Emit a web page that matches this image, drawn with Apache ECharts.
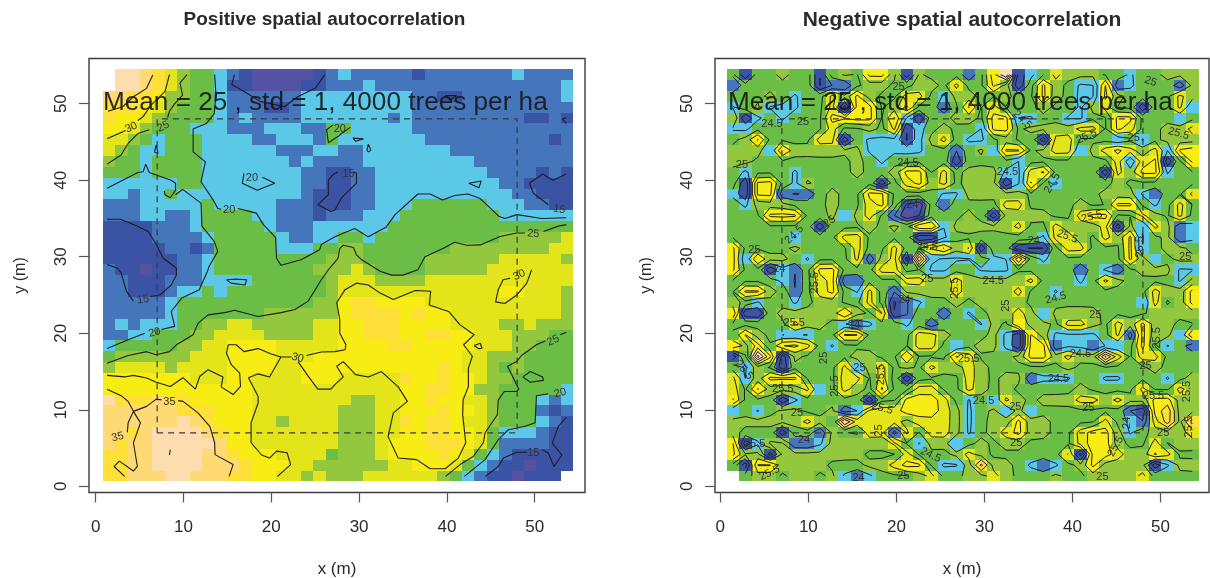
<!DOCTYPE html>
<html><head><meta charset="utf-8">
<style>html,body{margin:0;padding:0;background:#fff}#c{width:1210px;height:578px}</style>
<script src="https://cdn.jsdelivr.net/npm/echarts@6/dist/echarts.min.js"></script></head>
<body><div id="c"></div>
<script>
const axisTicks=[0,10,20,30,40,50];
const panelTitles=["Positive spatial autocorrelation","Negative spatial autocorrelation"];
const noteText="Mean = 25 , std = 1, 4000 trees per ha";
const bandColors={P:"#5652a3",N:"#3a53a4",B:"#4575bb",S:"#5bc8e8",G:"#6abd45",L:"#93c83e",I:"#e3e41a",Y:"#f7ec13",O:"#ffe038",R:"#ffd974",E:"#fddcb0"};
const rightBandValues={P:22.8,N:23.3,B:23.9,S:24.35,G:24.85,L:25.2,I:25.8,Y:26.3,O:27,R:27.6,E:28.2};
const leftBandValues={P:11,N:13.5,B:16.5,S:19,G:21.5,L:24,I:27.5,Y:31,O:33,R:36,E:38};
const rightLevels=[23,23.5,24,24.5,25,25.5,26,26.5,27,27.5,28];
const leftRows=[
".EEROILGGSBNPPPPPNBSBBBBBNBBBBBBBSBBBB",
".EEROILGGSNNPPPPNNBBBSBBBBBBBBBBBBBBBS",
"RROOYLLGGSBBBBBBSSSSSSSSSBBNNBBBBBBBBS",
"OOOYILGGGSBBBNNBSSSSSSSSSBBBBBBBBBBBBB",
"OYYILGGGGSBSBBBBSSSSSSSBSBBBBBBBBBNNBN",
"YYILGGGSSSBBBSSSBBGGSSSSSBBBBBBBBBBBBB",
"IILGSGGGSSSSBBSSSBGSSSSSSSBBBBBBBBBBNB",
"ILGSSGGGSSSSSSBBBSSBBSSSSSSSBBBBBBBBBB",
"LGGSGGGGSSSSSSSBSBBBBSSSSSSSSSBBBBBBBB",
"GGGSGGGGSSSSSSSSBBNNBBSSSSSSSSSBBBBNBN",
"SSSSSSGGSSSSSSSSBBNNBBSSSSSSSSSSBBNNNN",
"SSBSSGSSSSSSSSSSBNNNBBSSSSSSSSSSSBBNNN",
"BBBSSSSSGSSSSSBBBNNNBBSSSGGGGGGSSSBBNN",
"BBBSSBBSGGGGSSBBBNBBBSSSGGGGGGGGSSSSSS",
"NNNNBBBSGGGGGSBBBSSSSSSGGGGGGGGGGGGGGG",
"NNNNBBBBSGGGGGSBBSSGGSGGGGGGGGGGLLLLLI",
"NNNNNBBNBGGGGGSSSGGLLGGGGGGGLLLLLLLLII",
"NNNNNNBBSGGGGGGGGGLLLGGGGGLLLLLLIIIIIL",
"BNNPNNBBSGGGGGGGGLLLILGGGGLLLLLIIIIIII",
"BBNNNBBBSSSSGGGGGGLIIILLLLIIIIIIIIIIII",
"BBNNNBSSGSGGGGGGGGLIIIIIIIIIIIIIYYIIIL",
"BBBBBSGGGGGGGGGGGLLYOOYYYYIIIIIIIIIIIL",
"BBBBBSGGGGGGGLLLLLLYOOOOYOYYIIIIIIIIIL",
"BSBSSSGGLLIILLLLLIIYYOOOYYYYIIIILLILLL",
"BBSSGGGLLIIIILLLLIIYYOOOYYOOYYIIILLLGG",
"SGGGGGLLIIYYYYIIIIIYYYYOOYYYYYIIILLGGG",
"GLLLLLLIIIYYYYIIIYYYYYYYYYYYYIILLLGGGG",
"LIIIILIIIIYYYYIIYYYYYYYYYYYOYIILGLGGGG",
"YYYYYYYIIIYYIIIIYYYIIIIIOYYOYYILLGGGGG",
"YYYYYYYYYYYYIIIIIIIIIIIIYYOOYYLLGGGGGS",
"EOOOROOYYYYYIIIIIIIILLIIYYOYYIILGGGSBS",
"RRRRRROOOYYYIIIIIIILLLIIYYYOYYILGGGBNB",
"RRRRRREROYYYIILIIIILLLIIOYOOYIILGGGSBN",
"RROREEEEROYYIIIIIIILLLIIYYOOYYIGSSSBNN",
"RORREEEEERYYIIIIIIILLLIYYYOOOYIGBBBBNN",
"OORREEEERROYYYIIIIGLLLIYYYYOYIGSBNNNNN",
"OORREEEERRROYYYIILLLLLLIIYYYIGSBNNPNNN",
"OORRREERRROOYYIILILLLIIIIIILGSBNNPNNN."];
const rightRows=[
"GNGGLGGNGLGYYLNLGGGBGYENSGILLLGGSGGLLL",
"BGGGGGGNBBGLLGGLLGIGGYLNGYLGSSYBSGGGBL",
"GGGLGSGGILYLGGIIGSLLGGLGGYLGSSYLGGGGIL",
"SGLSSSGGINYYGLYGGBGYGIGGGLGGSLIGGNGGIS",
"LNSGSGGGYYYYGYSNGGLLGYYSSGGSSGGYYGGGSG",
"SSGGGGGGIGGLGINSGLGGSYYGLLLLIIGYIGGLLI",
"GLYGGGGIINGSSSNSLIGSSGLGGNIIGGGSGSGLLL",
"LLLSYLLLLLLSSSSSGGBGLSYYGLIISLIYILISYY",
"LLGGGGGGGGLGSGGGGGNGGGGSGGGGGGGISIYNGY",
"GSGGGSGGGGLGGLYYGIGLLLSSIYGGGGNILYYSGG",
"GNYYGSLGGGGGNGIYLIGLLLNSYGSGGGGLGGGGGG",
"SNYYBBBGLGGYYGGGGSSLLLLLGGGGGGLLLSBGGI",
"GSLLLGGGLGGIYGNPGBGGGGIIGGGGLGGYYGSGIG",
"GGGYYYGGLSLIGBPNGGGLGNLLLLGGIYYGGILGIG",
"GGGGGGGNGGGLGLGYYSLLLLLIGGILLLINLSILBS",
"GGGGGSGGGIIGGGGNNSGGGGGGGSIILGILYSGLBS",
"YGGGGLGGGGIGGIGGIYLINGGNNNGIIGGGYSGLLG",
"YSYLLGSGGGIBLINRSSSSGSSOGSGGGGGGYLSGLL",
"YGGNSBGYYGGGIIGGSSGGSSSGGGGGBGSBGLLLSS",
"GGGGSBGIYBBGGGIILLILLLLLIGGGSGILGGGGSL",
"GYYLGBGIYGSIGBLLLLILLLLIGGSGGGGGGGILLY",
"LGSGGSGLLGGIGNBSGGLGLLLLGGGGGGGGGSIGLY",
"YNNGLLLLLYLGINBGGBGSGLLILSLLLLGGGGLLLL",
"GGGGGILLGSBSGGSGBGGGSLGYLLGIILGILYLLGG",
"GYLGSSSGGYYGGGGIILGGGLSNYLSSSSGIBYLLSY",
"YLYGYYIGSGGGGGGIIGSGLLSNYYBSSBSSGYGSGB",
"NGEYNLGGGGLLGGYGGGYIGGGLYYLILLRIGIIGGG",
"GSLGNGGGGISLIGLGILLILGGGGGGLGGGGGGLGGG",
"ISLYYYGGGIIGIGNGGGGILGLLBSSSGGSSGGGSGL",
"IGYLLLISGILGYGGIIGGILGLGGGGGLGGGGIGGIL",
"YGGGNSGGGGGNGGYYYIGSGSILGLLLIILILLYYLL",
"SGSGLLGGLBSIIIYYYILSGLSLSGGGGGGGBNYOLL",
"LLLLLLILGRIIIILIIILSGLLYLLGGGGIGSBIOLO",
"LGGGNGGBLGGIIBIGIILSGLIYLLGGIYYLSGLLLI",
"YNSLLBBSLLLLLIGSLLSGLGLLGGGGIYYLGGIGLL",
"YLLNLLLLLLLGGGIGGGLILGGGGGGINYYILLYIGG",
"GNYYLLLLGGGLLIYYGSSLOLLGSBSGLYLLLLNSLL",
".GLLGLLGLSBSGGGLIGGLLILGGGLGGLLLLIGGGG"];
const leftContours=[
[[6.5,53.75],[5.8,52],[4.3,50.9],[3.1,49.6],[1.4,49]],
[[8.4,53.8],[7.9,51.6],[6.3,49.8],[5.4,48.3],[4.8,47.8]],
[[3.4,46.5],[1.3,45.4]],
[[10.4,53.8],[9.6,52.7],[9.9,51.1],[9,50],[8.4,49],[8.2,48.2]],
[[6.1,46.6],[4.8,46.1],[3.7,44.8],[2.9,43.3],[1.3,42.1]],
[[13.55,53.8],[13.7,51.1],[13.5,48.7],[12.6,47.4],[11.1,46.7],[11.1,43.7],[12.5,42.4],[12,39.8],[13.5,37.2],[13.9,36.3],[14.3,36.2]],
[[16.2,36.3],[18.3,35.7],[19.1,34.2],[20.5,32.5],[20.6,29.8],[21.1,28.9],[23.4,29.6],[25.5,30.9],[25.7,31.6],[27.25,32.6],[29.5,33.7],[31.05,32.6],[33.1,33.9],[34.1,35.5],[36.7,38.2],[38.1,38.2],[39.5,37.4],[40.9,38],[42.4,38.2],[43.8,37.6],[45.9,35.3],[46.6,35],[48,35.5],[50.8,35],[53.6,35.1]],
[[15.8,53.8],[15.5,52.5],[17.2,51.4],[18.7,50.3],[21.5,49.6],[23,50.9],[25,52],[26.1,53.8]],
[[27,47.2],[26.3,46.6],[26.5,44.9],[27.6,45.7],[28,46.1],[29,46.9]],
[[6.9,44.6],[6.7,43.7],[7.1,43.5],[6.9,44.6]],
[[1.3,38.95],[4.8,41],[5.4,41.1],[5.7,42.1],[6.1,41],[8.6,40],[9.1,39.6],[9.1,38.7],[8.5,37.7],[7.9,38.1],[7.8,38.6]],
[[9.1,38.1],[9.9,38.8],[12,37],[12.1,34],[13.5,32],[13.9,30.7],[12.9,28.7],[12.8,28.3],[11.8,25.7],[9.8,24.6],[8.6,22.85],[9,20.9],[7.5,20.5]],
[[5.6,20],[3.7,19.15],[1.3,18]],
[[1.3,34.9],[2.8,34.9],[4.3,34.2],[6,33.3],[6.9,31.6],[7.7,29.8],[9.2,28.5],[9.2,27.6],[8.6,26.3],[7.3,25],[6.2,24.8]],
[[4.3,24.2],[3.5,25.5],[2.9,27.9],[2.5,28.5],[1.3,29]],
[[27.6,41.1],[27,40.7],[26.5,40],[26.5,38.1],[25.3,36.8],[26.8,35.9],[27.25,36.1],[28,37.7],[29.15,39],[29.7,39.6],[29.7,40.9],[29.3,41.1]],
[[16.9,40.9],[16.7,39.6],[18.4,38.7],[20.4,39.6],[19,40.4]],
[[14.9,27],[15.4,26.55],[17,26.3],[17.2,27],[15.8,27.07],[14.9,27]],
[[29.3,45.5],[30.5,45.4],[29.6,45.1],[29.3,45.5]],
[[30.9,43.9],[31.05,44.7],[31.35,43.9],[31.05,43.7],[30.9,43.9]],
[[42.5,39.6],[43.9,39.9],[43.65,39],[42.5,39.6]],
[[53.6,48.2],[53.15,48],[53.6,47.4]],
[[53.6,40.8],[52.1,40],[50.9,40.8],[49.4,39.6],[49.85,38.3],[51.55,36.8]],
[[53.6,34.2],[52.7,34],[51,33.3]],
[[48.9,33.1],[47.95,33.1],[46.05,32.65],[43.8,31.55],[42.25,31.5],[40.9,31.9],[39.6,31.1],[37.5,30],[36.7,28.3],[35,27.6],[33.7,27.6],[32.4,28.1],[30.3,29.6],[29.7,30.25],[29.35,31.2],[28.2,31.5],[27.8,31.1],[27.6,29.8],[27.25,29.3],[26.5,28.3],[25.7,27],[24.2,24.2],[22.7,23.1],[21.1,22.7],[18.5,22.2],[15.8,23],[14.7,22.7],[12.8,22.4],[11.65,21.3],[11.1,19.8],[9.2,18.5],[8.4,17.6],[6.9,17.2],[5.8,17.6],[3.7,17.1],[1.3,16.1]],
[[1.3,14.5],[3.3,14.3],[4.3,14.5],[5.8,14.15],[6.9,13.6],[8.5,13.05],[9.95,14.2],[11.35,12.7],[11.85,14.35],[12.8,15.25],[14.5,14.3],[14.3,13],[15.65,12],[16.5,13.05],[16.4,14.8],[15.45,15.9],[14.9,17.4],[15.1,18.5],[16,18.5],[16.9,17.6],[18.5,18],[20,17.3],[21.1,16.9],[19.8,14.3],[18.5,14.7],[17.4,14.2],[18.5,11.75],[18.5,10.9],[17.7,8.3],[17.7,5.7],[18.9,4.1],[19.8,3.7],[20.6,4.6],[21.8,4.4],[22.2,2.85],[20.7,1.3]],
[[21.1,16.9],[22.3,16.9]],
[[24,17.1],[25.7,17.55],[27.25,17.6],[28.4,17.85],[28.5,18.5],[27.8,20],[27.8,21.8],[27.45,24],[28.4,25.7],[29.7,26.55],[31.05,26.3],[32.4,25.25],[33.9,24.4],[36.4,25.6],[38.15,25.5],[38,23.7],[40.2,22.85],[41.5,21.1],[43.1,19.8],[41.9,18.5],[42.9,17],[42.45,15.45],[42.45,13.05],[41.85,11.3],[41.8,9.35],[42.15,5.7],[41.3,3.7],[39.8,2.3],[38.1,2.3],[36.55,3.5],[34.45,3.7],[33.3,6.5],[33.9,9.6],[35.5,11.1],[34.45,13],[32.55,15],[31.05,14.3],[29.6,14.6],[28.2,16.3],[27.45,15.7],[28.2,14.3],[27.25,13.3],[26.8,12.7],[25.3,12.7],[24.2,14.4],[23.05,16.3]],
[[1.3,12.7],[2.9,11.85],[3.7,11.1],[4.3,9.8],[5.1,8.3],[4.3,5.7],[4.75,2.6],[4.3,2],[2.7,3.3],[2.1,2.6],[3.3,1.3]],
[[4.3,9.8],[5.8,10.45],[6.9,11.4],[7.5,11.3]],
[[9.4,11.2],[9.95,11.1],[11.65,9.6],[13,7.85],[13.55,5.7],[13.6,4.15],[15.65,2.85],[15.2,1.3]],
[[4.3,9.8],[3.7,8.3],[3.6,7.05]],
[[8.5,4.8],[8.4,4.1]],
[[47.2,27.2],[46.4,27],[45.85,25.7],[45.55,24.1],[46.6,23.9],[47.95,25],[49.1,26.55],[49.65,28.3]],
[[43.1,18.4],[43.8,18.7],[44,18.05],[43.6,18],[43.1,18.4]],
[[53.6,20.15],[52.9,19.8]],
[[51.2,19],[50.2,18.5],[48.5,17.1],[47.95,16.3],[46.9,15.7],[48.2,12.7],[47.95,12.4],[46.55,12.4],[45.85,11.3],[45.75,9.35],[44.35,7],[44.15,5.7],[43,3.9],[41.5,2.85],[39.85,1.3]],
[[48.65,14.3],[49.5,15],[50.9,14.3],[51,13.85],[49.5,13.6],[48.65,14.3]],
[[51.55,12.1],[50.2,11.85],[50.05,8.3],[48.9,7.85],[47,7.4],[45.85,6.1],[44.35,3.5],[42,1.3]],
[[53.6,9],[52.7,7.85],[52,5.65],[53.1,4.1],[52.2,2.6],[51.55,4.35],[50.8,4.8]],
[[49.1,4.45],[47.95,4.45],[46.45,3.7],[45.85,2.6],[44.4,1.3]],
[[39.8,51.05],[41.1,51.05],[40.35,50.5],[39.8,51.05]]];
const leftLabels=[[4.06,46.9,"30",25],[7.7,47,"25",25],[15.2,36.1,"20",0],[17.8,40.3,"20",0],[27.8,46.7,"20",0],[6.7,20.1,"20",15],[5.4,24.4,"15",8],[28.8,40.8,"15",0],[52.8,36.2,"15",-10],[49.85,33,"25",-5],[23,16.8,"30",-15],[8.4,11,"35",0],[2.5,6.45,"35",15],[48.25,27.6,"30",25],[52.1,19.05,"25",25],[52.9,12.2,"20",15],[49.85,4.35,"15",0]];
const rightLabels=[[5.87,47.35,"24.5",0],[9.4,47.65,"25",0],[2.46,42,"25",0],[21.3,42.2,"24.5",0],[20.25,52.2,"25",0],[48.85,52.9,"25",-20],[52.05,46.1,"25.5",-15],[41.6,45.7,"25.5",25],[46.95,45.5,"25",0],[34.3,47.9,"24.5",-45],[32.6,41.1,"24.5",0],[37.7,39.6,"24.5",60],[3.87,30.9,"25",0],[8.4,32.9,"24.5",45],[12.4,34.6,"25",35],[23.5,31.3,"24.5",0],[23.5,27.1,"25",0],[21.8,36.8,"24",0],[10.7,26.6,"25.5",90],[26.6,25.9,"25.5",90],[20.9,24.4,"24",0],[15.2,21.1,"24",0],[8.4,21.3,"25.5",0],[6.7,28.4,"24",0],[39.4,32.65,"25.5",-20],[42.2,35.25,"25.5",15],[35.6,32.1,"24",0],[31,26.85,"24.5",0],[38.1,24.6,"24.5",15],[32.4,23.6,"25",90],[42.6,22.4,"25",0],[52.8,30,"25",0],[49.6,19.4,"25.5",90],[47.7,31.3,"25.5",90],[2.7,15.2,"25.5",-50],[11.8,16.8,"25",90],[13,13.1,"25.5",90],[15.8,15.5,"25",0],[7.1,12.75,"25.5",0],[8.7,9.6,"25",0],[18.4,10.2,"25.5",-15],[3.9,5.5,"25.5",0],[9.5,6.1,"24",0],[5.6,1.75,"25.5",25],[15.7,1.1,"24",0],[23.9,4.1,"24.5",-25],[20.8,1.3,"25",0],[18.2,14.6,"25.5",90],[18,7.3,"25",90],[38.4,14,"24.5",0],[29.9,11.1,"24.5",0],[33.5,10.4,"25",0],[41.8,10.2,"25",0],[28.2,16.7,"25.5",0],[40.9,17.3,"24.5",0],[48.3,15.7,"25",0],[49.2,11.8,"25.5",0],[46.2,8.3,"24",90],[50.3,7,"25",0],[33.6,5.7,"25",0],[44.9,5.2,"25.5",60],[43.4,1.2,"25",0],[53.2,7.8,"25.5",90],[53,12.4,"25.5",90]];
const plotRegion=[[7,7],[48,7],[48,48],[7,48],[7,7]];

const PANELS=[
 {rows:leftRows,vals:leftBandValues,x0:0.83,y1:54.5,cw:1.41,ch:1.417,box:[89,58.5,496,434],xr:[-0.76,55.73],yr:[-0.8,55.9],title:324.5,titleSize:19,titleTop:10,note:103,labels:leftLabels},
 {rows:rightRows,vals:rightBandValues,x0:0.73,y1:54.5,cw:1.41,ch:1.417,box:[715,58.5,494,434],xr:[-0.6,55.5],yr:[-0.8,55.9],title:962,titleSize:21,titleTop:10,note:728,labels:rightLabels}];

function cellData(p){const out=[];p.rows.forEach((row,r)=>{for(let c=0;c<row.length;c++){const k=row[c];if(!bandColors[k])continue;
 out.push([p.x0+(c+.5)*p.cw,p.y1-(r+.5)*p.ch,p.vals[k],k]);}});return out;}
function flatten(lines){const out=[];lines.forEach(l=>{l.forEach(q=>out.push(q));out.push([null,null]);});return out;}
function contourSegments(p,levels){
 const raw=p.rows.map(row=>row.split('').map(k=>bandColors[k]?p.vals[k]:null));
 const v=raw.map((row,r)=>row.map((val,c)=>{if(val===null)return null;
  const n=[[r-1,c],[r+1,c],[r,c-1],[r,c+1]].map(q=>raw[q[0]]&&raw[q[0]][q[1]]).filter(x=>x!==null&&x!==undefined);
  return 0.8*val+0.2*n.reduce((s,x)=>s+x,0)/n.length;}));
 const X=c=>p.x0+(c+.5)*p.cw,Y=r=>p.y1-(r+.5)*p.ch,seg=[];
 levels.forEach(L=>{for(let r=0;r<v.length-1;r++)for(let c=0;c<v[r].length-1;c++){
  const a=v[r][c],b=v[r][c+1],d=v[r+1][c],e=v[r+1][c+1];
  if(a===null||b===null||d===null||e===null)continue;
  const pts=[];
  if((a<L)!==(b<L))pts.push([X(c+(L-a)/(b-a)),Y(r)]);
  if((b<L)!==(e<L))pts.push([X(c+1),Y(r+(L-b)/(e-b))]);
  if((e<L)!==(d<L))pts.push([X(c+(L-d)/(e-d)),Y(r+1)]);
  if((d<L)!==(a<L))pts.push([X(c),Y(r+(L-a)/(d-a))]);
  if(pts.length===2)seg.push([pts[0],pts[1]]);
  else if(pts.length===4){seg.push([pts[0],pts[1]]);seg.push([pts[2],pts[3]]);}
 }});return seg;}

const chart=echarts.init(document.getElementById('c'),null,{renderer:'canvas'});
const grids=[],xAxes=[],yAxes=[],series=[],titles=[],graphics=[];
const FONT='"Liberation Sans",Arial,sans-serif';
PANELS.forEach((p,i)=>{
 grids.push({left:p.box[0],top:p.box[1],width:p.box[2],height:p.box[3],outerBoundsMode:'none',containLabel:false,show:true,borderColor:'#3c3c3c',borderWidth:1.4,backgroundColor:'transparent'});
 const tick={show:true,length:10,customValues:axisTicks,lineStyle:{color:'#555',width:1.2}};
 const lab={fontFamily:FONT,fontSize:17,color:'#2a2a2a',customValues:axisTicks};
 xAxes.push({type:'value',gridIndex:i,min:p.xr[0],max:p.xr[1],splitLine:{show:false},axisLine:{show:false,onZero:false},axisTick:tick,
  axisLabel:Object.assign({margin:26},lab),name:'x (m)',nameLocation:'center',nameGap:68,nameTextStyle:{fontFamily:FONT,fontSize:17,color:'#2a2a2a'}});
 yAxes.push({type:'value',gridIndex:i,min:p.yr[0],max:p.yr[1],splitLine:{show:false},axisLine:{show:false,onZero:false},axisTick:tick,
  axisLabel:Object.assign({margin:19,rotate:90},lab),name:'y (m)',nameLocation:'center',nameGap:60,nameTextStyle:{fontFamily:FONT,fontSize:16,color:'#2a2a2a'}});
 series.push({type:'custom',xAxisIndex:i,yAxisIndex:i,silent:true,animation:false,data:cellData(p),encode:{x:0,y:1},z:1,
  renderItem:(ctx,api)=>{const x=api.value(0),y=api.value(1);
   const a=api.coord([x-p.cw/2,y+p.ch/2]),b=api.coord([x+p.cw/2,y-p.ch/2]);
   const it=series[i*4].data[ctx.dataIndex];
   return {type:'rect',shape:{x:Math.round(a[0]),y:Math.round(a[1]),width:Math.round(b[0])-Math.round(a[0]),height:Math.round(b[1])-Math.round(a[1])},style:{fill:bandColors[it[3]]}};}});
 const lines=i===0?leftContours:contourSegments(p,rightLevels);
 series.push({type:'line',xAxisIndex:i,yAxisIndex:i,data:flatten(lines),showSymbol:false,symbol:'none',connectNulls:false,silent:true,animation:false,z:3,lineStyle:{color:'#1e1e1e',width:i===0?1.1:1}});
 series.push({type:'line',xAxisIndex:i,yAxisIndex:i,data:plotRegion,showSymbol:false,symbol:'none',silent:true,animation:false,z:4,lineStyle:{color:'#3a3a3a',width:1.2,type:[6,5]}});
 series.push({type:'custom',xAxisIndex:i,yAxisIndex:i,silent:true,animation:false,data:p.labels,encode:{x:0,y:1},z:5,
  renderItem:(ctx,api)=>{const q=p.labels[ctx.dataIndex],c=api.coord([q[0],q[1]]);
   return {type:'text',x:c[0],y:c[1],rotation:q[3]*Math.PI/180,style:{text:q[2],font:'11px '+FONT,fill:'#333',align:'center',verticalAlign:'middle'}};}});
 titles.push({text:panelTitles[i],left:p.title,top:p.titleTop,padding:0,textAlign:'center',textStyle:{fontFamily:FONT,fontWeight:'bold',fontSize:p.titleSize,color:'#2a2a2a'}});
 graphics.push({type:'text',left:p.note,top:90,z:100,style:{text:noteText,font:'26.15px '+FONT,fill:'rgba(25,25,25,0.92)'}});
});
chart.setOption({animation:false,backgroundColor:'#fff',title:titles,grid:grids,xAxis:xAxes,yAxis:yAxes,series:series,graphic:graphics});
</script></body></html>
